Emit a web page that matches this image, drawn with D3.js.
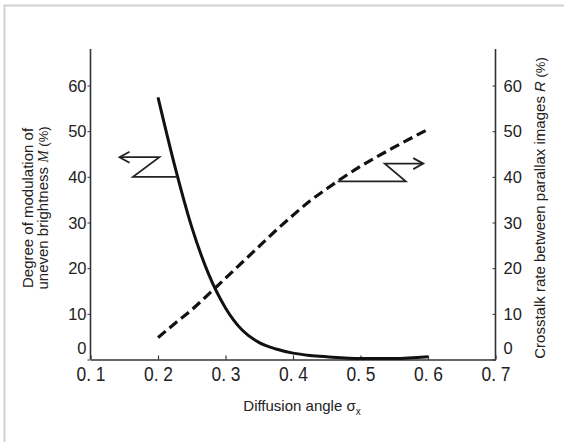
<!DOCTYPE html>
<html>
<head>
<meta charset="utf-8">
<script src="https://cdn.jsdelivr.net/npm/d3@7"></script>
<style>
  html, body { margin: 0; padding: 0; background: #fff; }
  svg { display: block; }
  text { font-family: "Liberation Sans", Arial, sans-serif; fill: #222; }
</style>
</head>
<body>
<svg id="chart" width="564" height="442"></svg>
<script>
// diffusion angle samples
const sigma = [0.2, 0.225, 0.25, 0.275, 0.3, 0.325, 0.35, 0.375, 0.4, 0.425, 0.45, 0.5, 0.55, 0.6];
// degree of modulation of uneven brightness M (%)
const modulation = [57.4, 42.3, 29.0, 18.7, 11.3, 6.4, 3.7, 2.3, 1.4, 0.9, 0.6, 0.2, 0.2, 0.6];
// crosstalk rate R (%)
const crosstalk = [4.8, 7.9, 10.9, 14.3, 17.8, 21.3, 24.8, 28.3, 31.6, 34.7, 37.4, 42.3, 46.5, 50.4];

const xTicks = [0.1, 0.2, 0.3, 0.4, 0.5, 0.6, 0.7];
const yTicks = [0, 10, 20, 30, 40, 50, 60];

// annotation arrows (data units): tip first, then the zig-zag back to the curve
const arrowM = [[0.143, 44.3], [0.202, 44.3], [0.163, 40.0], [0.229, 40.0]];
const arrowR = [[0.593, 42.9], [0.536, 42.9], [0.567, 39.0], [0.466, 39.0]];

const svg = d3.select("#chart");
const margin = {left: 90.5, right: 68.5, top: 49, bottom: 82.5};
const width = 564, height = 442;

const x = d3.scaleLinear().domain([0.1, 0.7]).range([margin.left, width - margin.right]);
const y = d3.scaleLinear().domain([0, 68]).range([height - margin.bottom, margin.top]);

// frame of the figure
svg.append("path")
    .attr("d", "M4.5,442V5.5H564")
    .attr("fill", "none")
    .attr("stroke", "#cfcfcf")
    .attr("stroke-width", 2);

const axisColor = "#333";

// bottom axis
const xAxis = svg.append("g")
    .attr("transform", `translate(0,${y(0)})`)
    .call(d3.axisBottom(x).tickValues(xTicks).tickSizeInner(-4).tickSizeOuter(0)
        .tickFormat(d => d3.format(".1f")(d).replace(".", ". ")));
xAxis.select(".domain").attr("stroke", axisColor).attr("stroke-width", 1.6);
xAxis.selectAll(".tick line").attr("stroke", axisColor).attr("stroke-width", 1.2);
xAxis.selectAll(".tick text")
    .attr("y", 21.5)
    .attr("dy", 0)
    .attr("transform", "scale(0.85,1)")
    .style("font-size", "20.5px")
    .style("fill", "#222");

// left axis
const yAxisL = svg.append("g")
    .attr("transform", `translate(${x(0.1)},0)`)
    .call(d3.axisLeft(y).tickValues(yTicks).tickSizeInner(3).tickSizeOuter(0).tickPadding(1));
yAxisL.select(".domain").attr("stroke", axisColor).attr("stroke-width", 1.6)
    .attr("d", `M0,${y(68)}V${y(0)}`);
yAxisL.selectAll(".tick line").attr("stroke", axisColor);
yAxisL.selectAll(".tick text")
    .style("font-size", "16.5px")
    .style("fill", "#222")
    .attr("dy", d => d === 0 ? "-0.35em" : "0.35em");

// right axis
const yAxisR = svg.append("g")
    .attr("transform", `translate(${x(0.7)},0)`)
    .call(d3.axisRight(y).tickValues(yTicks).tickSizeInner(-3).tickSizeOuter(0).tickPadding(8));
yAxisR.select(".domain").attr("stroke", axisColor).attr("stroke-width", 1.6)
    .attr("d", `M0,${y(68)}V${y(0)}`);
yAxisR.selectAll(".tick line").attr("stroke", axisColor);
yAxisR.selectAll(".tick text")
    .style("font-size", "16.5px")
    .style("fill", "#222")
    .attr("dy", d => d === 0 ? "-0.35em" : "0.35em");

// curves
const line = d3.line()
    .x(d => x(d[0]))
    .y(d => y(d[1]))
    .curve(d3.curveMonotoneX);

svg.append("path")
    .datum(sigma.map((s, i) => [s, modulation[i]]))
    .attr("d", line)
    .attr("fill", "none")
    .attr("stroke", "#111")
    .attr("stroke-width", 3);

svg.append("path")
    .datum(sigma.map((s, i) => [s, crosstalk[i]]))
    .attr("d", line)
    .attr("fill", "none")
    .attr("stroke", "#111")
    .attr("stroke-width", 3.2)
    .attr("stroke-dasharray", "10,5");

// arrows
function drawArrow(pts) {
    const p = pts.map(d => [x(d[0]), y(d[1])]);
    svg.append("path")
        .attr("d", d3.line()(p))
        .attr("fill", "none")
        .attr("stroke", "#222")
        .attr("stroke-width", 1.8);
    const dir = Math.sign(p[1][0] - p[0][0]);
    const tip = p[0];
    svg.append("path")
        .attr("d", `M${tip[0] + dir * 10},${tip[1] - 5.5}L${tip[0]},${tip[1]}L${tip[0] + dir * 10},${tip[1] + 5.5}`)
        .attr("fill", "none")
        .attr("stroke", "#222")
        .attr("stroke-width", 1.8);
}
drawArrow(arrowM);
drawArrow(arrowR);

// axis titles
svg.append("text")
    .attr("x", (x(0.1) + x(0.7)) / 2 + 9)
    .attr("y", 410.5)
    .attr("text-anchor", "middle")
    .style("font-size", "15px")
    .call(t => {
        t.append("tspan").text("Diffusion angle σ");
        t.append("tspan").attr("dy", 4).style("font-size", "10px").text("x");
    });

const yMid = 208;
const leftTitle = svg.append("text")
    .attr("transform", `translate(0,${yMid}) rotate(-90)`)
    .attr("text-anchor", "middle")
    .style("font-size", "15px");
leftTitle.append("tspan").attr("x", 0).attr("y", 33).text("Degree of modulation of");
const l2 = leftTitle.append("tspan").attr("x", 0).attr("y", 47.5);
l2.append("tspan").text("uneven brightness ");
l2.append("tspan").style("font-style", "italic").style("font-family", "'Liberation Serif', serif").text("M");
l2.append("tspan").style("font-size", "13px").text(" (%)");

const rightTitle = svg.append("text")
    .attr("transform", `translate(545,${yMid}) rotate(-90)`)
    .attr("text-anchor", "middle")
    .style("font-size", "15px");
rightTitle.append("tspan").text("Crosstalk rate between parallax images ");
rightTitle.append("tspan").style("font-style", "italic").text("R");
rightTitle.append("tspan").style("font-size", "13px").text(" (%)");
</script>
</body>
</html>
